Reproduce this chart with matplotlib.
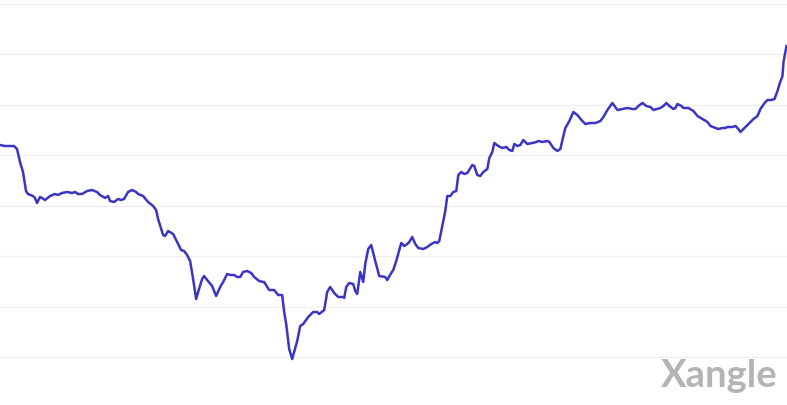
import matplotlib
matplotlib.use("Agg")
import matplotlib.pyplot as plt

# Horizontal position (day index) and value (in gridline units)
day = [0, 5, 12, 14, 17, 20, 23, 26, 28, 33, 35, 37, 40, 42, 45, 50, 55, 58, 62, 67, 72, 75, 78,
       82, 87, 92, 97, 100, 105, 108, 110, 114, 118, 121, 124, 128, 132, 136,
       138, 143, 148, 153, 156, 158, 163, 165, 168, 173, 177, 181, 184, 187, 190, 193, 196, 198,
       202, 204, 207, 212, 216, 220, 223, 227, 230, 234, 237, 240, 243, 247, 251, 254, 259, 263,
       264, 269, 274, 278, 282, 284, 286, 289, 292, 297, 300, 303, 308, 313, 317, 319, 324, 327,
       330, 334, 338, 343, 344, 346, 349, 353, 355, 357, 360, 363, 365, 368, 371, 375, 379, 385,
       387, 391, 393, 396, 401, 404, 407, 409, 412, 415, 418, 423, 427, 431, 435, 437, 439, 442,
       445, 447, 450, 453, 456, 458, 461, 464, 467, 472, 474, 477, 480, 483, 487, 489, 492, 494,
       498, 502, 506, 509, 512, 514, 517, 520, 523, 525, 527, 532, 536, 538, 542, 547, 549, 553,
       557, 560, 563, 565, 569, 573, 577, 581, 585, 590, 595, 600, 603, 607, 612, 617, 622, 627,
       632, 635, 638, 642, 646, 650, 653, 660, 663, 666, 669, 673, 675, 677, 681, 683, 688, 693,
       697, 702, 707, 710, 715, 718, 722, 725, 727, 732, 735, 737, 740, 743, 747, 751, 753, 757,
       760, 764, 767, 771, 774, 777, 779, 782, 783, 785, 786]
pixel_level = [146, 147, 147, 147, 150, 163, 173, 192, 195, 197, 199, 204, 198, 199, 201, 197, 195, 196, 194, 193, 194, 193, 195,
               195, 192, 191, 193, 196, 199, 197, 202, 203, 200, 201, 200, 193, 191, 193,
               195, 197, 203, 207, 211, 220, 236, 237, 232, 235, 243, 251, 252, 256, 262, 280, 300, 293,
               280, 277, 281, 287, 297, 288, 283, 275, 276, 276, 278, 278, 273, 272, 274, 278, 282, 283,
               283, 291, 291, 296, 296, 313, 325, 350, 360, 342, 327, 325, 318, 313, 313, 315, 311, 293,
               288, 294, 298, 298, 299, 288, 284, 285, 292, 295, 273, 283, 265, 250, 246, 262, 277, 278,
               281, 274, 271, 262, 244, 247, 245, 243, 238, 245, 249, 250, 248, 245, 243, 244, 242, 227,
               212, 197, 197, 193, 192, 176, 173, 175, 174, 166, 167, 176, 177, 173, 170, 159, 153, 144,
               147, 149, 148, 151, 152, 145, 147, 146, 141, 143, 145, 144, 143, 142, 143, 142, 143, 149,
               152, 150, 137, 129, 122, 113, 116, 121, 125, 124, 124, 122, 118, 111, 104, 111, 110, 109,
               110, 110, 107, 104, 107, 108, 111, 109, 107, 104, 107, 110, 109, 105, 107, 109, 109, 112,
               117, 120, 123, 127, 129, 130, 129, 129, 128, 128, 127, 129, 133, 130, 126, 122, 120, 117,
               110, 104, 101, 101, 100, 92, 85, 77, 63, 52, 47]

GRID_BASE = 358.0
GRID_STEP = 50.5
value = [(GRID_BASE - p) / GRID_STEP for p in pixel_level]

W, H = 787, 406
fig = plt.figure(figsize=(W / 100, H / 100), dpi=100)
ax = fig.add_axes([0, 0, 1, 1])
ax.set_xlim(0, 786.5)
ax.set_ylim((GRID_BASE - H) / GRID_STEP, GRID_BASE / GRID_STEP)
ax.set_yticks(range(0, 8))
ax.yaxis.grid(True, color="#f0f0f2", linewidth=1.0)
ax.xaxis.grid(False)
ax.set_axisbelow(True)
for s in ax.spines.values():
    s.set_visible(False)
ax.tick_params(left=False, bottom=False, labelleft=False, labelbottom=False)

ax.plot(day, value, color="#3a35c2", linewidth=1.8, solid_joinstyle="round")

fig.text(778 / W, 1 - 387 / H, "Xangle", ha="right", va="baseline",
         fontsize=27.5, fontweight="bold", family="Lato", color="#b4b4b4")

fig.savefig("out.png", dpi=100, facecolor="white")
